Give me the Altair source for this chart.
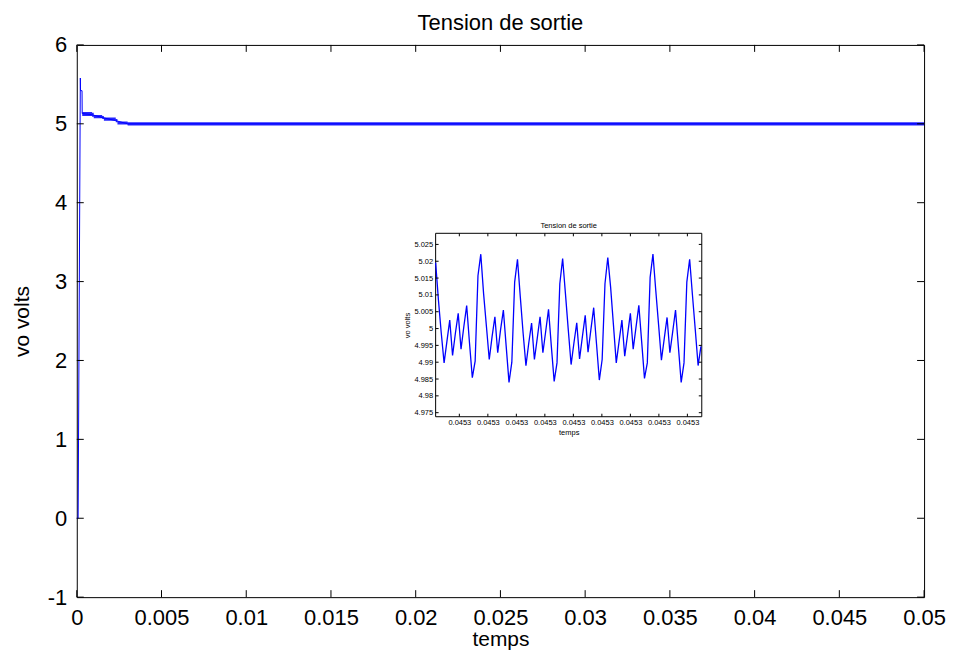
import altair as alt
import pandas as pd

FONT = "Liberation Sans"
BLUE = "#0000ff"

# ---------------- main chart data ----------------
main_t = [0, 0.00008, 0.00021, 0.00022, 0.00031, 0.00032, 0.0009, 0.0015, 0.0023, 0.0030, 0.05]
main_v = [0, 0, 5.58, 5.42, 5.42, 5.13, 5.115, 5.08, 5.04, 5.0, 5.0]

band_t = [0.00032, 0.0009, 0.0010, 0.0015, 0.0016, 0.0023, 0.0024, 0.0030, 0.05]
band_lo = [5.10, 5.09, 5.07, 5.06, 5.04, 5.02, 4.99, 4.98, 4.98]
band_hi = [5.15, 5.14, 5.11, 5.10, 5.08, 5.06, 5.03, 5.02, 5.02]

main_xticks = [0, 0.005, 0.01, 0.015, 0.02, 0.025, 0.03, 0.035, 0.04, 0.045, 0.05]
main_yticks = [-1, 0, 1, 2, 3, 4, 5, 6]
main_xdom = [0, 0.05]
main_ydom = [-1, 6]
main_title = "Tension de sortie"

# ---------------- inset data ----------------
inset_v = [
    5.0196, 5.0084, 4.9986, 4.9898, 4.9962, 5.0025, 4.9920, 4.9986, 5.0045, 4.9939,
    5.0006, 5.0068, 4.9957, 4.9854, 4.9903, 5.0157, 5.0221, 5.0103, 5.0006, 4.9908,
    4.9976, 5.0035, 4.9928, 4.9996, 5.0055, 4.9947, 4.9840, 4.9900, 5.0138, 5.0206,
    5.0094, 4.9986, 4.9890, 4.9957, 5.0016, 4.9908, 4.9971, 5.0035, 4.9928, 4.9992,
    5.0057, 4.9947, 4.9843, 4.9898, 5.0133, 5.0208, 5.0103, 4.9996, 4.9893, 4.9957,
    5.0017, 4.9910, 4.9976, 5.0039, 4.9930, 4.9996, 5.0062, 4.9955, 4.9847, 4.9908,
    5.0133, 5.0211, 5.0123, 5.0011, 4.9898, 4.9962, 5.0025, 4.9918, 4.9981, 5.0045,
    4.9939, 5.0004, 5.0069, 4.9961, 4.9852, 4.9898, 5.0152, 5.0221, 5.0113, 5.0011,
    4.9906, 4.9970, 5.0033, 4.9928, 4.9991, 5.0055, 4.9947, 4.9840, 4.9898, 5.0138,
    5.0206, 5.0099, 4.9996, 4.9890, 4.9947,
]
inset_n = list(range(len(inset_v)))
inset_xticks = [8.4, 18.5, 28.6, 38.7, 48.8, 58.9, 69.0, 79.1, 89.2]
inset_yticks = [4.975, 4.98, 4.985, 4.99, 4.995, 5, 5.005, 5.01, 5.015, 5.02, 5.025]
inset_xdom = [0, 94.3]
inset_ydom = [4.9738, 5.0283]
inset_title = "Tension de sortie"

# ---------------- layout ----------------
W, H = 850, 554
INSET_XRANGE = [360, 627]
INSET_YRANGE = [373, 189]

# ---------------- main scales/axes ----------------
mxs = alt.Scale(domain=main_xdom, nice=False, zero=False)
mys = alt.Scale(domain=main_ydom, nice=False, zero=False)
mxa = alt.Axis(values=main_xticks, labelExpr="datum.value + ''", ticks=False, domain=False,
               grid=False, labelFont=FONT, labelFontSize=22, labelColor="black",
               labelPadding=10, labelFlush=False, labelOverlap=False,
               title="temps", titleFont=FONT, titleFontSize=21, titleFontWeight="normal",
               titleColor="black", titlePadding=1)
mya = alt.Axis(values=main_yticks, labelExpr="datum.value + ''", ticks=False, domain=False,
               grid=False, labelFont=FONT, labelFontSize=22, labelColor="black",
               labelPadding=10, labelFlush=False, labelOverlap=False,
               title="vo volts", titleFont=FONT, titleFontSize=21, titleFontWeight="normal",
               titleColor="black", titlePadding=15)


def MX(f):
    return alt.X(f, type="quantitative", scale=mxs, axis=mxa)


def MY(f):
    return alt.Y(f, type="quantitative", scale=mys, axis=mya)


main_df = pd.DataFrame({"t": main_t, "v": main_v})
band_df = pd.DataFrame({"t": band_t, "lo": band_lo, "hi": band_hi})

# inward tick segments for main frame
TL_Y = 7 * (main_ydom[1] - main_ydom[0]) / H
TL_X = 7 * (main_xdom[1] - main_xdom[0]) / W
seg = []
for t in main_xticks:
    seg.append((t, t, main_ydom[0], main_ydom[0] + TL_Y))
    seg.append((t, t, main_ydom[1], main_ydom[1] - TL_Y))
for v in main_yticks:
    seg.append((main_xdom[0], main_xdom[0] + TL_X, v, v))
    seg.append((main_xdom[1], main_xdom[1] - TL_X, v, v))
mtick_df = pd.DataFrame(seg, columns=["x", "x2", "y", "y2"])
mtitle_df = pd.DataFrame({"x": [(main_xdom[0] + main_xdom[1]) / 2], "y": [main_ydom[1]],
                          "label": [main_title]})

band = alt.Chart(band_df).mark_area(color=BLUE, opacity=0.85, interpolate="step-after").encode(
    x=MX("t"), y=MY("lo"), y2="hi")
line = alt.Chart(main_df).mark_line(color=BLUE, strokeWidth=1).encode(x=MX("t"), y=MY("v"))
mticks = alt.Chart(mtick_df).mark_rule(color="black", strokeWidth=1).encode(
    x=MX("x"), x2="x2", y=MY("y"), y2="y2")
mtitle = alt.Chart(mtitle_df).mark_text(font=FONT, fontSize=22, color="black", dy=-22,
                                        baseline="middle", align="center").encode(
    x=MX("x"), y=MY("y"), text="label:N")

main = alt.layer(band, line, mticks, mtitle)

# ---------------- inset scales/axes ----------------
ixs = alt.Scale(domain=inset_xdom, range=INSET_XRANGE, nice=False, zero=False)
iys = alt.Scale(domain=inset_ydom, range=INSET_YRANGE, nice=False, zero=False)
ixa = alt.Axis(orient="bottom", offset=-(H - INSET_YRANGE[0]), values=inset_xticks,
               labelExpr="'0.0453'", ticks=False, domain=False, grid=False,
               labelFont=FONT, labelFontSize=7.5, labelColor="black", labelPadding=2,
               labelFlush=False, labelOverlap=False,
               title="temps", titleFont=FONT, titleFontSize=7.5, titleFontWeight="normal",
               titleColor="black", titlePadding=2)
iya = alt.Axis(orient="left", offset=-INSET_XRANGE[0], values=inset_yticks,
               labelExpr="datum.value + ''", ticks=False, domain=False, grid=False,
               labelFont=FONT, labelFontSize=7.5, labelColor="black", labelPadding=3,
               labelFlush=False, labelOverlap=False,
               title="vo volts", titleFont=FONT, titleFontSize=7.5, titleFontWeight="normal",
               titleColor="black", titlePadding=2)


def IX(f):
    return alt.X(f, type="quantitative", scale=ixs, axis=ixa)


def IY(f):
    return alt.Y(f, type="quantitative", scale=iys, axis=iya)


frame_df = pd.DataFrame({"x": [inset_xdom[0]], "x2": [inset_xdom[1]],
                         "y": [inset_ydom[0]], "y2": [inset_ydom[1]]})
inset_df = pd.DataFrame({"n": inset_n, "v": inset_v})

ITL_Y = 3 * (inset_ydom[1] - inset_ydom[0]) / (INSET_YRANGE[0] - INSET_YRANGE[1])
ITL_X = 3 * (inset_xdom[1] - inset_xdom[0]) / (INSET_XRANGE[1] - INSET_XRANGE[0])
iseg = []
for t in inset_xticks:
    iseg.append((t, t, inset_ydom[0], inset_ydom[0] + ITL_Y))
    iseg.append((t, t, inset_ydom[1], inset_ydom[1] - ITL_Y))
for v in inset_yticks:
    iseg.append((inset_xdom[0], inset_xdom[0] + ITL_X, v, v))
    iseg.append((inset_xdom[1], inset_xdom[1] - ITL_X, v, v))
itick_df = pd.DataFrame(iseg, columns=["x", "x2", "y", "y2"])

ititle_df = pd.DataFrame({"x": [(inset_xdom[0] + inset_xdom[1]) / 2], "y": [inset_ydom[1]],
                          "label": [inset_title]})

iframe = alt.Chart(frame_df).mark_rect(fill="white", stroke="black", strokeWidth=1).encode(
    x=IX("x"), x2="x2", y=IY("y"), y2="y2")
iline = alt.Chart(inset_df).mark_line(color=BLUE, strokeWidth=1.3).encode(x=IX("n"), y=IY("v"))
iticks = alt.Chart(itick_df).mark_rule(color="black", strokeWidth=1).encode(
    x=IX("x"), x2="x2", y=IY("y"), y2="y2")
ititle = alt.Chart(ititle_df).mark_text(font=FONT, fontSize=7.5, color="black", dy=-7.5,
                                        baseline="middle", align="center").encode(
    x=IX("x"), y=IY("y"), text="label:N")

inset = alt.layer(iframe, iline, iticks, ititle)

chart = alt.layer(main, inset).resolve_scale(x="independent", y="independent").properties(
    width=W, height=H,
    autosize=alt.AutoSizeParams(type="none"),
    padding={"left": 69, "top": 36, "right": 22, "bottom": 54},
).configure(background="white", view=alt.ViewConfig(stroke="black", strokeWidth=1))

chart.save("out.html", embed_options={"renderer": "svg", "actions": False})
